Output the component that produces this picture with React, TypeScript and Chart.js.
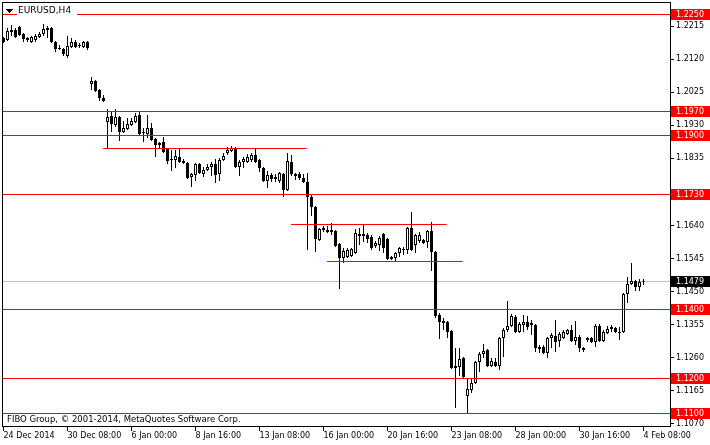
import React, { useEffect, useRef } from "react";
import { Chart, registerables } from "chart.js";

Chart.register(...registerables);

const FONT = "'DejaVu Sans', sans-serif";

const chartTitle = "EURUSD,H4";
const copyrightText = "FIBO Group, © 2001-2014, MetaQuotes Software Corp.";

const opens = [
  1.21809, 1.21751, 1.21982, 1.22039, 1.22126, 1.21924, 1.21809, 1.21694, 1.21751, 1.21838,
  1.21924, 1.22097, 1.22097, 1.21694, 1.21521, 1.21492, 1.21291, 1.2155, 1.21694, 1.21607,
  1.2155, 1.21694, 1.20484, 1.20571, 1.20312, 1.20081, 1.1939, 1.19563, 1.19304, 1.19534,
  1.19102, 1.19189, 1.19304, 1.1939, 1.19592, 1.19102, 1.19045, 1.19218, 1.18901, 1.18786,
  1.18814, 1.18613, 1.18325, 1.18296, 1.18383, 1.18267, 1.1821, 1.17807, 1.17864, 1.18181,
  1.17893, 1.18008, 1.18095, 1.18181, 1.17893, 1.18296, 1.18498, 1.18555, 1.18642, 1.18095,
  1.18239, 1.18239, 1.18296, 1.1844, 1.18296, 1.18066, 1.17691, 1.17864, 1.17749, 1.17691,
  1.17893, 1.17432, 1.18239, 1.17893, 1.17893, 1.17778, 1.17663, 1.17231, 1.16943, 1.15993,
  1.16338, 1.16281, 1.16281, 1.16252, 1.15877, 1.15474, 1.15503, 1.15532, 1.15618, 1.16165,
  1.16108, 1.16137, 1.16079, 1.1582, 1.15849, 1.16165, 1.16021, 1.15503, 1.15474, 1.15618,
  1.15734, 1.15705, 1.16338, 1.15849, 1.15964, 1.15993, 1.15935, 1.16252, 1.15647, 1.13833,
  1.1366, 1.13632, 1.13372, 1.12365, 1.12336, 1.12595, 1.11501, 1.11674, 1.11875, 1.1248,
  1.1271, 1.12825, 1.12365, 1.1248, 1.12365, 1.13171, 1.13401, 1.13516, 1.13776, 1.13344,
  1.13545, 1.13632, 1.13545, 1.13545, 1.12912, 1.12912, 1.12739, 1.13171, 1.13228, 1.13084,
  1.13171, 1.13286, 1.13401, 1.13084, 1.132, 1.12883, 1.13113, 1.13171, 1.13056, 1.13516,
  1.13084, 1.13315, 1.1343, 1.13459, 1.13344, 1.13344, 1.14438, 1.14726, 1.14812, 1.14639,
  1.14812,
];
const highs = [
  1.21838, 1.22097, 1.22183, 1.22097, 1.22154, 1.21953, 1.21838, 1.21867, 1.21924, 1.21982,
  1.22212, 1.22154, 1.22126, 1.21723, 1.21607, 1.21521, 1.21867, 1.21809, 1.21751, 1.21665,
  1.21723, 1.21723, 1.20686, 1.206, 1.2034, 1.20168, 1.19765, 1.19678, 1.19765, 1.19563,
  1.19419, 1.19505, 1.19505, 1.19649, 1.19678, 1.19218, 1.19592, 1.19361, 1.1893, 1.18814,
  1.18958, 1.18642, 1.18584, 1.18584, 1.18613, 1.18325, 1.18239, 1.17922, 1.1821, 1.1821,
  1.18095, 1.18181, 1.18239, 1.18325, 1.18354, 1.18498, 1.1867, 1.18699, 1.1867, 1.18296,
  1.18383, 1.18469, 1.18498, 1.18613, 1.18325, 1.18095, 1.17979, 1.17922, 1.17893, 1.17951,
  1.17922, 1.18498, 1.1844, 1.17922, 1.17951, 1.17893, 1.17922, 1.17288, 1.16972, 1.16338,
  1.16396, 1.16396, 1.16482, 1.16281, 1.15906, 1.15762, 1.15762, 1.15762, 1.16309, 1.16338,
  1.16425, 1.16194, 1.16137, 1.15964, 1.16108, 1.16194, 1.1605, 1.15532, 1.15647, 1.15791,
  1.15791, 1.16367, 1.16799, 1.16165, 1.16223, 1.16021, 1.16281, 1.16511, 1.15676, 1.13891,
  1.13747, 1.1366, 1.13401, 1.12883, 1.12883, 1.12624, 1.12019, 1.12019, 1.12509, 1.12768,
  1.12998, 1.12854, 1.12595, 1.12595, 1.132, 1.13459, 1.14236, 1.13862, 1.13833, 1.13632,
  1.13833, 1.13804, 1.13689, 1.13574, 1.12969, 1.12969, 1.132, 1.13315, 1.13689, 1.13344,
  1.13401, 1.1343, 1.13545, 1.1366, 1.13257, 1.12912, 1.132, 1.132, 1.13574, 1.13574,
  1.13401, 1.13516, 1.13545, 1.13488, 1.13488, 1.14467, 1.14927, 1.1533, 1.14841, 1.1487,
  1.1487,
];
const lows = [
  1.21665, 1.21723, 1.21867, 1.21809, 1.21867, 1.21694, 1.21694, 1.21665, 1.21694, 1.21809,
  1.21867, 1.21809, 1.21665, 1.21406, 1.21463, 1.21291, 1.21233, 1.21521, 1.21521, 1.21521,
  1.21521, 1.21463, 1.20312, 1.20254, 1.19995, 1.19966, 1.18613, 1.19102, 1.19246, 1.18843,
  1.19074, 1.1916, 1.19275, 1.19361, 1.19016, 1.18814, 1.1893, 1.18843, 1.18383, 1.18642,
  1.18498, 1.18181, 1.17979, 1.18066, 1.1821, 1.18181, 1.17749, 1.17519, 1.17691, 1.17893,
  1.17807, 1.17979, 1.17835, 1.17634, 1.17691, 1.18267, 1.1844, 1.18526, 1.18066, 1.17835,
  1.18066, 1.1821, 1.18239, 1.1821, 1.17951, 1.17663, 1.1749, 1.17663, 1.17663, 1.17634,
  1.17231, 1.17404, 1.17835, 1.1772, 1.1772, 1.17634, 1.15705, 1.16684, 1.15647, 1.15964,
  1.16223, 1.16194, 1.16137, 1.15791, 1.14582, 1.1533, 1.15474, 1.15503, 1.1559, 1.15849,
  1.15935, 1.15906, 1.15705, 1.15762, 1.15676, 1.15618, 1.15417, 1.15417, 1.15388, 1.15503,
  1.15561, 1.1559, 1.15676, 1.15618, 1.15906, 1.15877, 1.15762, 1.151, 1.13747, 1.13142,
  1.13401, 1.13171, 1.12278, 1.11155, 1.12077, 1.12019, 1.10983, 1.11587, 1.11846, 1.12192,
  1.12595, 1.12336, 1.12336, 1.12336, 1.12249, 1.12624, 1.13344, 1.13488, 1.13315, 1.13315,
  1.13344, 1.13401, 1.13257, 1.12768, 1.12739, 1.1271, 1.12595, 1.12883, 1.12768, 1.12912,
  1.13142, 1.13257, 1.13056, 1.12969, 1.12768, 1.12768, 1.13056, 1.13027, 1.12912, 1.13056,
  1.13056, 1.13286, 1.13344, 1.13315, 1.13113, 1.13315, 1.14179, 1.14697, 1.14524, 1.14524,
  1.14697,
];
const closes = [
  1.21694, 1.22011, 1.22039, 1.21838, 1.21895, 1.2178, 1.21751, 1.21838, 1.21867, 1.21924,
  1.22068, 1.22039, 1.21694, 1.21492, 1.21492, 1.21348, 1.21579, 1.21694, 1.2155, 1.21579,
  1.21694, 1.21521, 1.20571, 1.20283, 1.20081, 1.19995, 1.19534, 1.19333, 1.19534, 1.19102,
  1.19218, 1.19333, 1.19419, 1.19563, 1.19045, 1.19074, 1.19218, 1.18872, 1.18728, 1.18728,
  1.18526, 1.18267, 1.18296, 1.18411, 1.18239, 1.1821, 1.17778, 1.17893, 1.18181, 1.17922,
  1.18008, 1.18095, 1.18181, 1.17864, 1.18296, 1.18411, 1.18584, 1.18642, 1.18095, 1.18239,
  1.18325, 1.18383, 1.1844, 1.18239, 1.18066, 1.17691, 1.17864, 1.17749, 1.17807, 1.17922,
  1.17432, 1.18267, 1.17893, 1.17835, 1.17778, 1.17663, 1.17231, 1.16943, 1.16021, 1.16309,
  1.16281, 1.16223, 1.16223, 1.1582, 1.15474, 1.15676, 1.15705, 1.15734, 1.16194, 1.16108,
  1.16165, 1.16021, 1.15762, 1.15906, 1.1605, 1.15762, 1.15446, 1.15446, 1.15618, 1.15762,
  1.15705, 1.16338, 1.15705, 1.16137, 1.16137, 1.15906, 1.16252, 1.15647, 1.13804, 1.13632,
  1.13603, 1.13344, 1.12307, 1.12307, 1.12566, 1.12048, 1.11702, 1.11875, 1.1248, 1.1271,
  1.12797, 1.12365, 1.12509, 1.12365, 1.13171, 1.13401, 1.13516, 1.13804, 1.13344, 1.13574,
  1.13632, 1.13488, 1.13603, 1.12883, 1.12854, 1.12739, 1.13171, 1.13257, 1.13056, 1.13286,
  1.13344, 1.13401, 1.13084, 1.132, 1.12883, 1.12825, 1.13171, 1.13056, 1.13516, 1.13084,
  1.13344, 1.1343, 1.13488, 1.13344, 1.13315, 1.14438, 1.14726, 1.14812, 1.14639, 1.14783,
  1.1479,
];

const timeTickIndex = [0, 16, 32, 48, 64, 80, 96, 112, 128, 144, 160];
const timeTickLabels = [
  "24 Dec 2014", "30 Dec 08:00", "6 Jan 00:00", "8 Jan 16:00", "13 Jan 08:00", "16 Jan 00:00",
  "20 Jan 16:00", "23 Jan 08:00", "28 Jan 00:00", "30 Jan 16:00", "4 Feb 08:00",
];

const priceTickValues = [1.2215, 1.212, 1.2025, 1.193, 1.1835, 1.164, 1.1545, 1.145, 1.1355, 1.126, 1.1165, 1.107];
const priceTickLabels = ["1.2215", "1.2120", "1.2025", "1.1930", "1.1835", "1.1640", "1.1545", "1.1450", "1.1355", "1.1260", "1.1165", "1.1070"];

const levelPrices = [1.225, 1.197, 1.19, 1.173, 1.14, 1.12, 1.11];
const levelLabels = ["1.2250", "1.1970", "1.1900", "1.1730", "1.1400", "1.1200", "1.1100"];
const bidPrice = 1.1479;
const bidLabel = "1.1479";

const trendStart = [24.875, 71.875, 80.875];
const trendEnd = [75.8, 110.8, 114.8];
const trendPrice = [1.18627, 1.16439, 1.15374];

const priceMax = 1.228455226;
const priceMin = 1.106082638;
const indexMin = -0.375;
const indexMax = 166.625;

function rowOf(scale: any, p: number) {
  return Math.floor(scale.getPixelForValue(p) + 0.01);
}

const overlayPlugin = {
  id: "mt4Overlay",
  beforeDraw(chart: any) {
    const { ctx, width, height } = chart;
    ctx.save();
    ctx.fillStyle = "#ffffff";
    ctx.fillRect(0, 0, width, height);
    ctx.restore();
  },
  beforeDatasetsDraw(chart: any) {
    const { ctx, chartArea: a, scales } = chart;
    ctx.save();
    ctx.fillStyle = "#C0C0C0";
    ctx.fillRect(a.left, rowOf(scales.y, bidPrice), a.right - a.left, 1);
    ctx.restore();
  },
  afterDatasetsDraw(chart: any) {
    const { ctx, chartArea: a, scales } = chart;
    ctx.save();
    ctx.fillStyle = "#FF0000";
    levelPrices.forEach((p) => {
      ctx.fillRect(a.left, rowOf(scales.y, p), a.right - a.left, 1);
    });
    ctx.restore();
  },
  afterDraw(chart: any) {
    const { ctx, chartArea: a, scales } = chart;
    ctx.save();
    ctx.fillStyle = "#000000";
    ctx.fillRect(a.left, a.top, a.right - a.left + 1, 1);
    ctx.fillRect(a.left, a.bottom - 1, a.right - a.left + 1, 1);
    ctx.fillRect(a.left, a.top, 1, a.bottom - a.top);
    ctx.fillRect(a.right, a.top, 1, a.bottom - a.top);

    ctx.fillStyle = "#ffffff";
    ctx.fillRect(17, 5, 60, 11);
    ctx.fillStyle = "#000000";
    ctx.fillRect(6, 9, 7, 1);
    ctx.fillRect(7, 10, 5, 1);
    ctx.fillRect(8, 11, 3, 1);
    ctx.fillRect(9, 12, 1, 1);
    ctx.font = `9px ${FONT}`;
    ctx.textAlign = "left";
    ctx.textBaseline = "middle";
    ctx.fillText(chartTitle, 18, 11);

    ctx.font = `8.5px ${FONT}`;
    ctx.fillText(copyrightText, 7, 419.5);

    ctx.font = `8px ${FONT}`;
    const boxX = a.right + 1;
    const boxW = chart.width - boxX;
    levelPrices.forEach((p, k) => {
      const r = rowOf(scales.y, p);
      ctx.fillStyle = "#FF0000";
      ctx.fillRect(boxX, r - 5, boxW, 11);
      ctx.fillStyle = "#ffffff";
      ctx.fillText(levelLabels[k], boxX + 5, r + 0.5);
    });
    const rb = rowOf(scales.y, bidPrice);
    ctx.fillStyle = "#000000";
    ctx.fillRect(boxX, rb - 5, boxW, 11);
    ctx.fillStyle = "#ffffff";
    ctx.fillText(bidLabel, boxX + 5, rb + 0.5);
    ctx.restore();
  },
};

export default function App() {
  const ref = useRef<HTMLCanvasElement>(null);

  useEffect(() => {
    if (!ref.current) return;
    Chart.defaults.font.family = FONT;

    const bodies = opens.map((o, i) => ({ x: i, y: [o, closes[i]] }));
    const bodyColors = opens.map((o, i) => (closes[i] > o ? "#ffffff" : "#000000"));
    const wicks = opens.map((_, i) => ({ x: i, y: [lows[i], highs[i]] }));

    const trendSets = trendPrice.map((p, k) => ({
      type: "line",
      data: [
        { x: trendStart[k], y: p },
        { x: trendEnd[k], y: p },
      ],
      borderColor: "#FF0000",
      borderWidth: 1,
      pointRadius: 0,
      fill: false,
      tension: 0,
      borderCapStyle: "butt",
      order: -1,
    }));

    const chart = new Chart(ref.current, {
      type: "bar",
      data: {
        datasets: [
          ...trendSets,
          {
            type: "bar",
            data: bodies,
            backgroundColor: bodyColors,
            borderColor: "#000000",
            borderWidth: 1,
            borderSkipped: false,
            barThickness: 3,
            grouped: false,
            inflateAmount: 0,
            order: 0,
          },
          {
            type: "bar",
            data: wicks,
            backgroundColor: "#000000",
            borderWidth: 0,
            barThickness: 1,
            grouped: false,
            inflateAmount: 0,
            order: 1,
          },
        ] as any,
      },
      options: {
        responsive: false,
        animation: false,
        devicePixelRatio: 1,
        events: [],
        layout: { padding: { left: 2, top: 2, right: 0, bottom: 0 } },
        plugins: {
          legend: { display: false },
          tooltip: { enabled: false },
          title: { display: false },
        },
        scales: {
          x: {
            type: "linear",
            position: "bottom",
            min: indexMin,
            max: indexMax,
            offset: false,
            bounds: "data",
            grid: { display: true, drawOnChartArea: false, drawTicks: true, tickLength: 4, color: "#000000", offset: false },
            border: { display: false },
            ticks: {
              autoSkip: false,
              maxRotation: 0,
              minRotation: 0,
              align: "start",
              padding: 0,
              color: "#000000",
              font: { family: FONT, size: 8 },
              callback: (_v: any, i: number) => timeTickLabels[i] ?? "",
            },
            afterBuildTicks: (s: any) => {
              s.ticks = timeTickIndex.map((v) => ({ value: v }));
            },
            afterFit: (s: any) => {
              s.height = 18;
              s.paddingLeft = 0;
              s.paddingRight = 0;
              s.paddingTop = 0;
              s.paddingBottom = 0;
            },
          },
          y: {
            type: "linear",
            position: "right",
            min: priceMin,
            max: priceMax,
            bounds: "data",
            grid: { display: true, drawOnChartArea: false, drawTicks: true, tickLength: 4, color: "#000000" },
            border: { display: false },
            ticks: {
              autoSkip: false,
              padding: 2,
              color: "#000000",
              font: { family: FONT, size: 8 },
              callback: (_v: any, i: number) => priceTickLabels[i] ?? "",
            },
            afterBuildTicks: (s: any) => {
              s.ticks = priceTickValues.map((v) => ({ value: v }));
            },
            afterFit: (s: any) => {
              s.width = 40;
              s.paddingLeft = 0;
              s.paddingRight = 0;
              s.paddingTop = 0;
              s.paddingBottom = 0;
            },
          },
        },
      } as any,
      plugins: [overlayPlugin],
    } as any);

    return () => chart.destroy();
  }, []);

  return (
    <div style={{ position: "fixed", left: 0, top: 0, width: 710, height: 445, background: "#ffffff" }}>
      <canvas ref={ref} width={710} height={445} style={{ display: "block", width: 710, height: 445 }} />
    </div>
  );
}
